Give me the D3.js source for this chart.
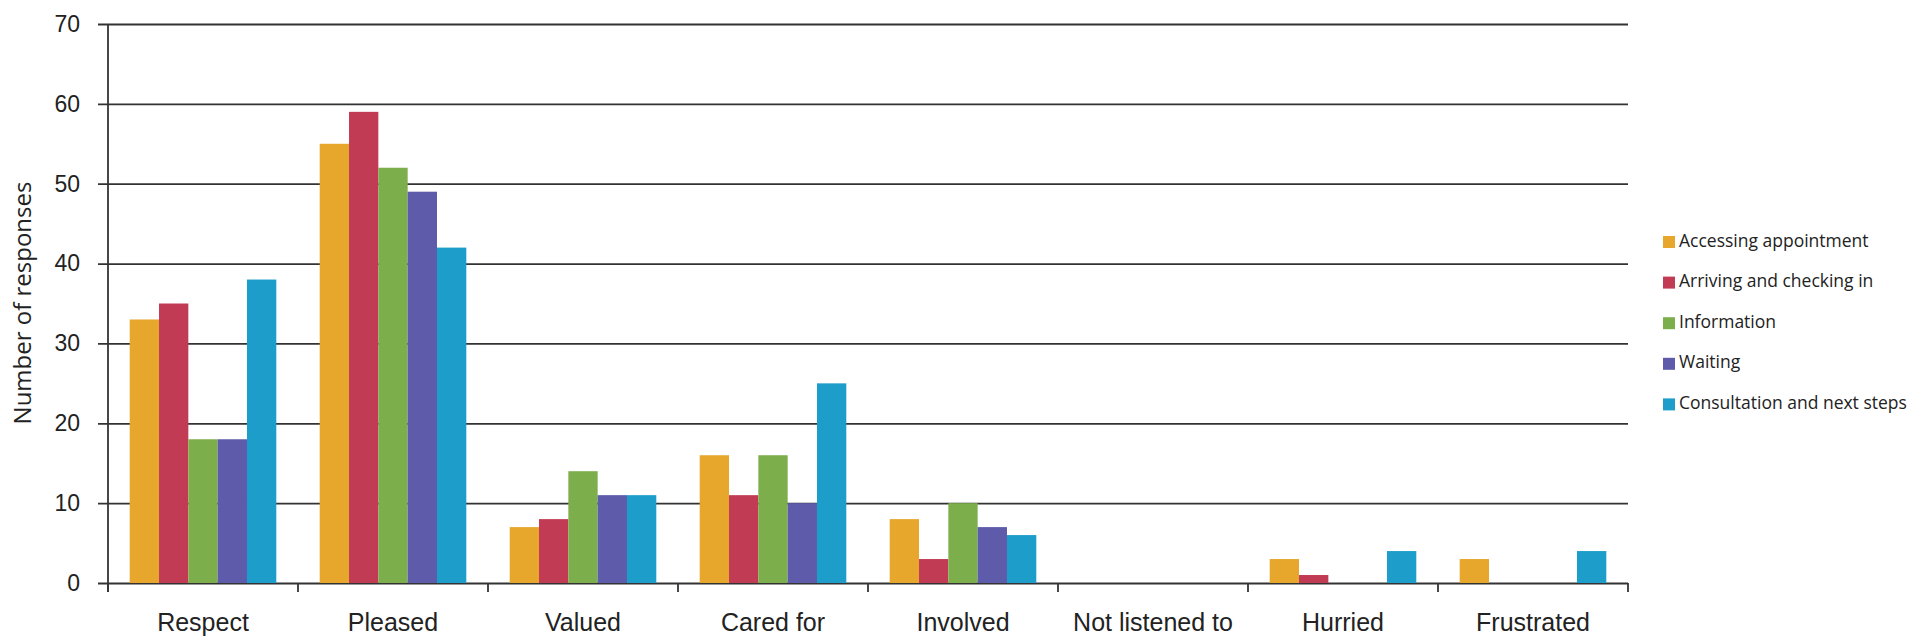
<!DOCTYPE html>
<html>
<head>
<meta charset="utf-8">
<script src="https://cdn.jsdelivr.net/npm/d3@7"></script>
<style>
  body { margin: 0; background: #fff; }
  svg { display: block; font-family: "Open Sans", sans-serif; }
</style>
</head>
<body>
<div id="chart"></div>
<script>
// Chart data
const categories = ["Respect", "Pleased", "Valued", "Cared for", "Involved", "Not listened to", "Hurried", "Frustrated"];
const series = ["Accessing appointment", "Arriving and checking in", "Information", "Waiting", "Consultation and next steps"];
const accessing = [33, 55, 7, 16, 8, 0, 3, 3];
const arriving = [35, 59, 8, 11, 3, 0, 1, 0];
const information = [18, 52, 14, 16, 10, 0, 0, 0];
const waiting = [18, 49, 11, 10, 7, 0, 0, 0];
const consultation = [38, 42, 11, 25, 6, 0, 4, 4];
const yTicks = [0, 10, 20, 30, 40, 50, 60, 70];

const seriesValues = [accessing, arriving, information, waiting, consultation];
const colors = ["#e6a72c", "#c23b55", "#7cae4b", "#5d5baa", "#1d9dc9"];

// Set chart dimensions
const W = 1909, H = 638;
const margin = { top: 24, right: 281, bottom: 55, left: 108 };
const width = W - margin.left - margin.right;
const height = H - margin.top - margin.bottom;

const svg = d3.select("#chart")
  .append("svg")
  .attr("width", W)
  .attr("height", H)
  .append("g")
  .attr("transform", `translate(${margin.left}, ${margin.top})`);

// Scales
const x0 = d3.scaleBand().domain(categories).range([0, width]).padding(0);
const x1 = d3.scaleBand().domain(series).range([0, x0.bandwidth()])
  .paddingInner(0).paddingOuter(0.74);
const y = d3.scaleLinear().domain([0, 70]).range([height, 0]);
const color = d3.scaleOrdinal().domain(series).range(colors);

// Gridlines + y tick labels
const yAxis = svg.append("g")
  .attr("transform", "translate(-10, 0)")
  .call(d3.axisLeft(y).tickValues(yTicks).tickSize(-(width + 10)).tickPadding(18));
yAxis.select(".domain").remove();
yAxis.selectAll("line").attr("stroke", "#333").attr("stroke-width", 1.8);
yAxis.selectAll("text")
  .style("font-size", "23px")
  .style("fill", "#222");

// Vertical axis line
svg.append("line")
  .attr("x1", 0).attr("x2", 0)
  .attr("y1", y(70)).attr("y2", height + 9)
  .attr("stroke", "#333").attr("stroke-width", 1.8);

// Bars
const rows = categories.map((c, i) => ({
  category: c,
  values: series.map((s, j) => ({ key: s, value: seriesValues[j][i] }))
}));

svg.append("g")
  .selectAll("g")
  .data(rows)
  .join("g")
  .attr("transform", d => `translate(${x0(d.category)}, 0)`)
  .selectAll("rect")
  .data(d => d.values)
  .join("rect")
  .attr("x", d => x1(d.key))
  .attr("y", d => y(d.value))
  .attr("width", x1.bandwidth())
  .attr("height", d => height - y(d.value))
  .attr("fill", d => color(d.key));

// X axis: ticks at category boundaries, labels centered
const boundaries = categories.map(c => x0(c)).concat([width]);
svg.append("g")
  .selectAll("line")
  .data(boundaries)
  .join("line")
  .attr("x1", d => d).attr("x2", d => d)
  .attr("y1", height).attr("y2", height + 9)
  .attr("stroke", "#333").attr("stroke-width", 1.8);

const xAxis = svg.append("g")
  .attr("transform", `translate(0, ${height})`)
  .call(d3.axisBottom(x0).tickSize(0));
xAxis.select(".domain").remove();
xAxis.selectAll("text")
  .attr("y", 48)
  .attr("dy", 0)
  .style("font-size", "25px")
  .style("fill", "#222");

// Y axis title
svg.append("text")
  .attr("transform", `translate(${25 - margin.left}, ${303 - margin.top}) rotate(-90)`)
  .attr("text-anchor", "middle")
  .attr("dominant-baseline", "middle")
  .style("font-size", "24px")
  .style("fill", "#222")
  .text("Number of responses");

// Legend
const legend = svg.append("g")
  .attr("transform", `translate(${1663 - margin.left}, ${242 - margin.top})`);

legend.selectAll("rect")
  .data(series)
  .join("rect")
  .attr("x", 0)
  .attr("y", (d, i) => i * 40.6 - 6)
  .attr("width", 12)
  .attr("height", 12)
  .attr("fill", color);

legend.selectAll("text")
  .data(series)
  .join("text")
  .attr("x", 16)
  .attr("y", (d, i) => i * 40.6)
  .attr("dominant-baseline", "middle")
  .style("font-size", "17.5px")
  .style("fill", "#222")
  .text(d => d);
</script>
</body>
</html>
